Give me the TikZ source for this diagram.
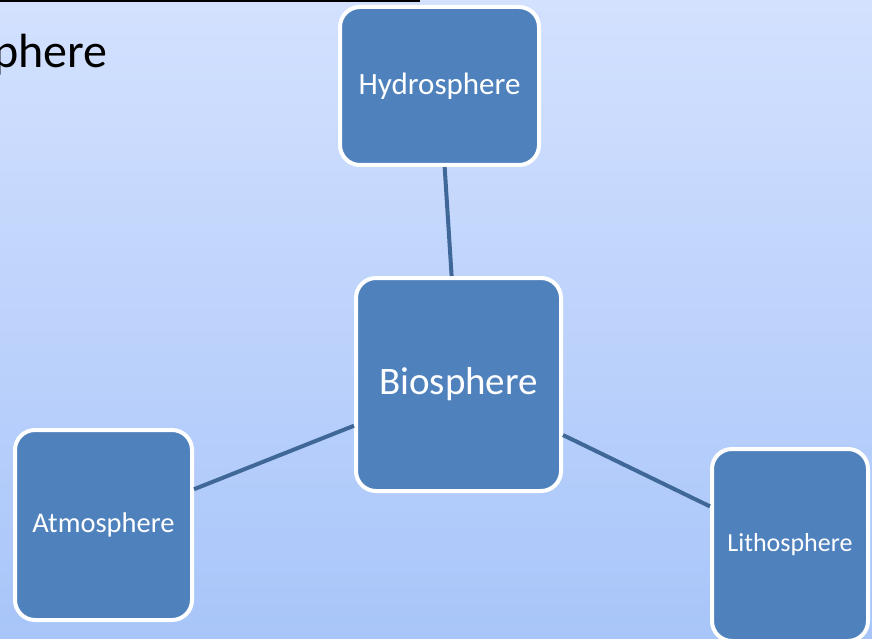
\documentclass[tikz,border=0pt]{standalone}
\usepackage{fontspec}
\setmainfont{Carlito}
\usepackage{xcolor}
\usepackage{tikz}
\usetikzlibrary{positioning}
\definecolor{sphTop}{HTML}{D3E1FE}
\definecolor{sphBottom}{HTML}{A8C5F9}
\definecolor{sphFill}{HTML}{4F81BD}
\definecolor{sphLink}{HTML}{3F6797}
\tikzset{
  sphbox/.style={rounded corners=20pt, draw=white, line width=4pt, fill=sphFill,
                 text=white, align=center, inner sep=0pt},
  sphlink/.style={line width=4pt, draw=sphLink},
}
\newcommand{\fsz}[1]{\fontsize{#1}{1.2\dimexpr#1pt\relax}\selectfont}

\begin{document}
\begin{tikzpicture}[x=1pt, y=-1pt]
    \useasboundingbox (0,0) rectangle (872,639);
    \shade[top color=sphTop, bottom color=sphBottom] (0,0) rectangle (872,639);
    \draw[line width=3pt, black] (0,1) -- (420,1);
    \node[anchor=base east, inner sep=0pt, font=\fsz{48}] (title) at (108,68) {phere};
    \node[sphbox, minimum width=199pt, minimum height=158pt, font=\fsz{31}] (hyd) at (439.5,86) {Hydrosphere};
    \node[sphbox, minimum width=205pt, minimum height=213pt, font=\fsz{39}] (bio) at (458.5,384.5) {Biosphere};
    \node[sphbox, minimum width=177pt, minimum height=190pt, font=\fsz{28.5}] (atm) at (103.5,525) {Atmosphere};
    \node[sphbox, minimum width=156pt, minimum height=192pt, font=\fsz{26}] (lit) at (790,545) {Lithosphere};
    \draw[sphlink] (hyd)--(bio);
    \draw[sphlink] (atm)--(bio);
    \draw[sphlink] (bio)--(lit);
  \end{tikzpicture}
\end{document}
